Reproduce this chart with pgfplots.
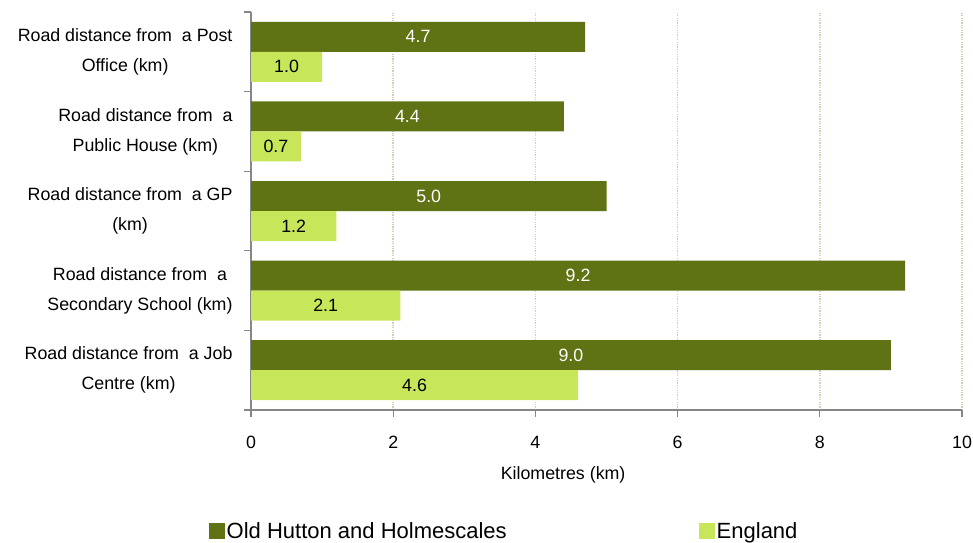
\documentclass[border=0pt]{standalone}
\usepackage{fontspec}
\setmainfont{Liberation Sans}
\usepackage{pgfplots}
\pgfplotsset{compat=1.18}
\usepackage{pgfplotstable}
\definecolor{darkolive}{RGB}{95,115,20}
\definecolor{lightlime}{RGB}{200,230,90}
\definecolor{gridc}{RGB}{210,206,176}
\definecolor{axc}{RGB}{134,134,134}

\pgfplotstableread{
y a b
4 4.7 1.0
3 4.4 0.7
2 5.0 1.2
1 9.2 2.1
0 9.0 4.6
}\data

\begin{document}
\begin{tikzpicture}
\path[use as bounding box] (0pt,0pt) rectangle (973pt,542pt);
\begin{axis}[
  at={(251pt,132pt)}, anchor=south west,
  scale only axis, width=711pt, height=398pt,
  xmin=0, xmax=10, ymin=-0.5, ymax=4.5,
  axis lines=left,
  axis line style={-, draw=axc, line width=1.2pt},
  tick align=outside,
  major tick length=7pt,
  tick style={draw=axc, line width=1.2pt},
  xtick={0,2,...,10},
  ytick={-0.5,0.5,1.5,2.5,3.5,4.5},
  yticklabels={},
  extra y ticks={0,1,2,3,4},
  extra y tick labels={{Road distance from~ a Job\\Centre (km)},{Road distance from~ a\\Secondary School (km)},{Road distance from~ a GP\\(km)},{Road distance from~ a\\Public House (km)},{Road distance from~ a Post\\Office (km)}},
  extra y tick style={major tick length=0pt, yticklabel style={align=center, anchor=east, xshift=-15pt, font=\fontsize{17.8}{30}\selectfont}},
  xmajorgrids,
  grid style={gridc, line width=1.5pt, dash pattern=on 1.2pt off 1.2pt},
  xticklabel style={font=\fontsize{17.8}{21}\selectfont, yshift=-16pt},
  /pgf/number format/assume math mode=true,
  xlabel={Kilometres (km)},
  xlabel style={font=\fontsize{17.8}{21}\selectfont, at={(axis description cs:0.439,-0.163)}, anchor=center},
  legend columns=2,
  legend style={draw=none, fill=none, at={(-0.064,-0.304)}, anchor=west,
    font=\fontsize{22}{26}\selectfont,
    /tikz/column 2/.style={column sep=190pt}},
  legend image code/.code={\draw[#1,draw=none] (0pt,-8pt) rectangle (16pt,8pt);},
]
\addplot[xbar, bar width=30pt, bar shift=15pt, fill=darkolive, draw=none] table[x=a, y=y]{\data};
\addlegendentry{Old Hutton and Holmescales}
\addplot[xbar, bar width=30pt, bar shift=-15pt, fill=lightlime, draw=none] table[x=b, y=y]{\data};
\addlegendentry{England}
\addplot[draw=none, mark=none, forget plot, point meta=explicit,
  nodes near coords={\pgfmathprintnumber[fixed,fixed zerofill,precision=1]{\pgfplotspointmeta}},
  every node near coord/.style={anchor=center, text=white, font=\fontsize{17.8}{21}\selectfont}]
  table[x expr=\thisrow{a}/2, y expr=\thisrow{y}+0.1884, meta=a]{\data};
\addplot[draw=none, mark=none, forget plot, point meta=explicit,
  nodes near coords={\pgfmathprintnumber[fixed,fixed zerofill,precision=1]{\pgfplotspointmeta}},
  every node near coord/.style={anchor=center, text=black, font=\fontsize{17.8}{21}\selectfont}]
  table[x expr=\thisrow{b}/2, y expr=\thisrow{y}-0.1884, meta=b]{\data};
\end{axis}
\end{tikzpicture}
\end{document}
